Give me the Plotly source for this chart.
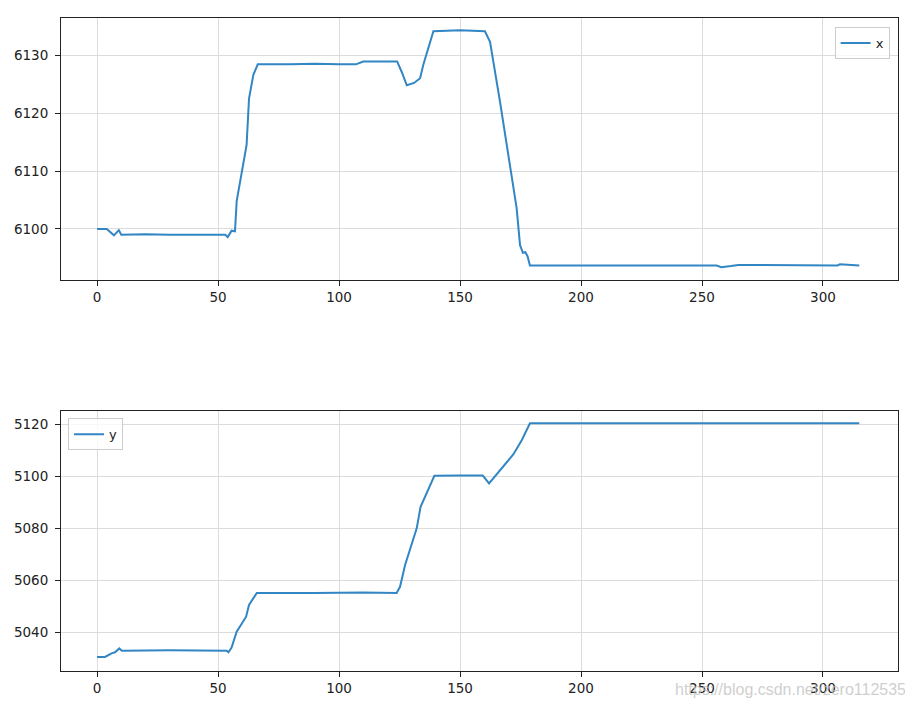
import plotly.graph_objects as go
from plotly.subplots import make_subplots

# ---- data ----
t_x = [0, 4, 7, 9, 10, 20, 30, 40, 53, 54, 55.6, 57, 57.7, 61.8, 62.8, 64.6, 66.4,
       80, 90, 100, 107, 110, 124, 126, 128, 131, 133.5, 134.8, 139, 150, 160.3,
       162.4, 166.5, 173.4, 174.8, 176, 177, 177.9, 178.9, 256, 258, 262, 265,
       306, 307, 315]
vals_x = [6100, 6100, 6098.9, 6099.8, 6099, 6099.1, 6099, 6099, 6099, 6098.6,
          6099.7, 6099.6, 6104.8, 6114.5, 6122.5, 6126.6, 6128.4, 6128.4, 6128.5,
          6128.4, 6128.4, 6128.9, 6128.9, 6127, 6124.8, 6125.2, 6126, 6128.3,
          6134.1, 6134.3, 6134.1, 6132.3, 6122, 6103.6, 6097.2, 6095.9, 6096,
          6095.3, 6093.7, 6093.7, 6093.4, 6093.6, 6093.8, 6093.7, 6093.9, 6093.7]

t_y = [0, 3.3, 6, 7.4, 9.2, 10.2, 30, 53.6, 54.3, 55.6, 57.7, 59.7, 61.6, 62.8, 66,
       90, 110, 123.8, 125.2, 127.3, 132.1, 133.7, 139.4, 150, 159.4, 162, 172,
       175.5, 178.9, 250, 315]
vals_y = [5030.4, 5030.4, 5031.8, 5032.2, 5033.7, 5032.8, 5033, 5032.8, 5032.2,
          5034, 5040.1, 5043.3, 5045.9, 5050.4, 5055, 5055, 5055.2, 5055, 5057.4,
          5065.8, 5079.9, 5088.2, 5100.1, 5100.2, 5100.2, 5097.2, 5108.3, 5113.8,
          5120.3, 5120.3, 5120.3]

x_ticks = [0, 50, 100, 150, 200, 250, 300]
top_y_ticks = [6100, 6110, 6120, 6130]
bot_y_ticks = [5040, 5060, 5080, 5100, 5120]

LINE = "#3286c4"
FONT = "DejaVu Sans"

fig = make_subplots(rows=2, cols=1)
fig.add_trace(go.Scatter(x=t_x, y=vals_x, mode="lines", name="x",
                         line=dict(color=LINE, width=2), legend="legend"), row=1, col=1)
fig.add_trace(go.Scatter(x=t_y, y=vals_y, mode="lines", name="y",
                         line=dict(color=LINE, width=2), legend="legend2"), row=2, col=1)

axis_common = dict(showline=True, linecolor="#222", linewidth=1.1, mirror=True,
                   ticks="outside", ticklen=5, tickwidth=1.1, tickcolor="#222",
                   showgrid=True, gridcolor="#dcdcdc", gridwidth=1, zeroline=False,
                   automargin=False,
                   tickfont=dict(family=FONT, size=13.5, color="#222"))

fig.update_xaxes(**axis_common, range=[-14.9, 331], tickvals=x_ticks)
fig.update_yaxes(**axis_common, ticklabelstandoff=4)
fig.update_yaxes(range=[6091.2, 6136.4], tickvals=top_y_ticks, row=1, col=1)
fig.update_yaxes(range=[5025, 5125], tickvals=bot_y_ticks, row=2, col=1)

fig.update_layout(
    width=905, height=700,
    margin=dict(l=53, r=15, t=10, b=37),
    paper_bgcolor="white", plot_bgcolor="white",
    xaxis=dict(domain=[0, 1]), yaxis=dict(domain=[0.5988, 1]),
    xaxis2=dict(domain=[0, 1]), yaxis2=dict(domain=[0, 0.398]),
    legend=dict(x=0.990, y=0.986, xanchor="right", yanchor="top",
                bgcolor="rgba(255,255,255,0.8)", bordercolor="#cccccc", borderwidth=1,
                font=dict(family=FONT, size=13, color="#222")),
    legend2=dict(x=0.0084, y=0.387, xanchor="left", yanchor="top",
                 bgcolor="rgba(255,255,255,0.8)", bordercolor="#cccccc", borderwidth=1,
                 font=dict(family=FONT, size=13, color="#222")),
    showlegend=True,
    annotations=[dict(text="https://blog.csdn.net/zero112535", xref="paper", yref="paper",
                      x=0.731, y=-0.029, xanchor="left", yanchor="middle", showarrow=False,
                      font=dict(family="Liberation Sans", size=16,
                                color="rgba(190,190,190,0.75)"))],
)

fig.write_html("out.html")
